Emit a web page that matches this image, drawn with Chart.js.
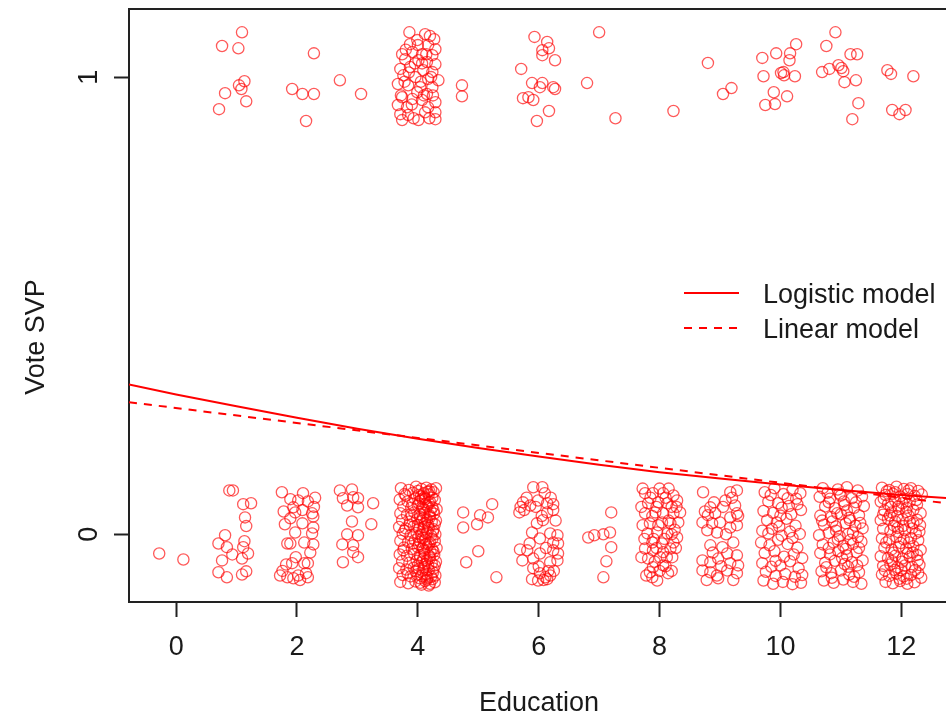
<!DOCTYPE html>
<html>
<head>
<meta charset="utf-8">
<script src="https://cdn.jsdelivr.net/npm/chart.js@4/dist/chart.umd.min.js"></script>
<style>
  html, body { margin: 0; padding: 0; background: #fff; }
  #wrap { width: 946px; height: 714px; }
</style>
</head>
<body>
<div id="wrap"><canvas id="plot" width="946" height="714"></canvas></div>
<script>
const edu0 = [[-0.28,-0.042],[0.12,-0.055]];

const edu1 = [
  [1.09,1.098],[0.76,1.068],[1.03,1.063],[1.13,0.991],[1.04,0.982],[1.08,0.974],[0.81,0.965],[1.16,0.947],[0.71,0.930],
  [0.88,0.096],[0.94,0.096],[1.11,0.066],[1.24,0.068],[1.14,0.037],[1.16,0.018],[0.81,-0.002],[0.70,-0.020],[0.84,-0.028],
  [1.13,-0.015],[1.11,-0.028],[0.93,-0.044],[1.19,-0.042],[0.76,-0.057],[1.09,-0.053],[0.70,-0.083],[0.84,-0.094],
  [1.09,-0.088],[1.16,-0.081]
];

const edu2 = [
  [2.28,1.052],[1.92,0.974],[2.09,0.963],[2.28,0.963],[2.15,0.904],
  [1.75,0.092],[1.89,0.077],[2.02,0.074],[2.18,0.072],[1.94,0.059],[1.97,0.048],[2.09,0.053],[2.25,0.046],[2.27,0.039],
  [1.89,0.035],[1.80,0.022],[2.09,0.024],[2.27,0.015],[2.25,0.002],[1.97,0.004],[1.89,-0.020],[1.84,-0.020],[2.12,-0.018],
  [2.27,-0.022],[1.82,-0.066],[1.92,-0.063],[2.12,-0.063],[2.18,-0.063],[1.72,-0.090],[1.84,-0.094],[1.94,-0.096],
  [2.02,-0.090],[2.15,-0.085],[2.18,-0.094],[2.10,0.090],[2.30,0.080],[1.78,0.050],[2.22,-0.040],[1.76,-0.080],
  [2.05,-0.100],[1.98,-0.050],[2.28,0.060]
];

const edu3 = [
  [2.71,0.993],[3.06,0.963],
  [2.71,0.096],[2.91,0.098],[2.76,0.079],[2.93,0.081],[3.01,0.079],[2.83,0.063],[3.01,0.059],[3.26,0.068],[2.91,0.028],
  [3.23,0.022],[2.83,0.000],[3.01,-0.002],[2.75,-0.022],[2.93,-0.024],[2.93,-0.039],[3.01,-0.050],[2.76,-0.061]
];

const edu4 = [
  [3.86,1.098],[4.12,1.094],[4.27,1.083],[3.99,1.081],[3.87,1.072],[4.17,1.070],[4.29,1.061],[3.74,1.050],[3.91,1.055],
  [4.07,1.050],[4.24,1.048],[3.79,1.039],[4.01,1.037],[4.15,1.033],[4.29,1.028],[3.71,1.018],[3.87,1.022],[4.09,1.015],
  [4.24,1.011],[3.76,1.004],[3.96,1.000],[4.17,0.996],[4.34,0.993],[3.67,0.985],[3.84,0.982],[4.04,0.978],[4.24,0.978],
  [3.99,0.967],[4.15,0.963],[3.74,0.956],[3.91,0.952],[4.07,0.950],[4.29,0.945],[3.67,0.939],[3.82,0.934],[4.17,0.934],
  [3.71,0.919],[3.84,0.917],[4.12,0.923],[4.29,0.923],[3.74,0.906],[4.01,0.906],[4.29,0.908],[3.80,1.060],[4.20,1.090],
  [3.95,1.030],[4.05,0.990],[3.90,0.940],[4.10,0.960],[4.22,1.000],[3.78,0.990],[4.00,1.070],[4.25,0.960],[3.85,1.010],
  [4.14,1.050],[3.72,0.960],[4.19,0.910],[3.93,0.910],[4.07,1.030],
  [3.72,0.101],[3.85,0.097],[3.97,0.104],[4.06,0.099],[4.14,0.102],[4.22,0.098],[4.30,0.101],
  [3.78,0.088],[3.92,0.091],[4.02,0.086],[4.10,0.090],[4.18,0.087],[4.26,0.092],
  [3.70,0.076],[3.83,0.072],[3.95,0.078],[4.04,0.073],[4.12,0.077],[4.20,0.071],[4.28,0.075],
  [3.76,0.061],[3.89,0.058],[4.00,0.063],[4.08,0.057],[4.16,0.062],[4.24,0.059],[4.31,0.055],
  [3.71,0.046],[3.82,0.043],[3.94,0.048],[4.03,0.044],[4.11,0.047],[4.19,0.042],[4.27,0.045],
  [3.74,0.031],[3.87,0.028],[3.99,0.033],[4.07,0.029],[4.15,0.032],[4.23,0.027],[4.30,0.030],
  [3.69,0.016],[3.80,0.013],[3.93,0.017],[4.02,0.012],[4.10,0.016],[4.18,0.014],[4.26,0.011],
  [3.75,0.001],[3.88,-0.002],[3.98,0.003],[4.06,-0.001],[4.14,0.002],[4.22,-0.003],[4.29,0.000],
  [3.71,-0.014],[3.84,-0.017],[3.95,-0.013],[4.04,-0.016],[4.12,-0.012],[4.20,-0.018],[4.28,-0.015],
  [3.77,-0.029],[3.90,-0.032],[4.00,-0.028],[4.08,-0.031],[4.16,-0.027],[4.24,-0.033],[4.31,-0.030],
  [3.70,-0.044],[3.82,-0.047],[3.94,-0.043],[4.03,-0.046],[4.11,-0.042],[4.19,-0.048],[4.27,-0.045],
  [3.74,-0.059],[3.86,-0.062],[3.98,-0.058],[4.07,-0.061],[4.15,-0.057],[4.23,-0.063],[4.30,-0.060],
  [3.69,-0.074],[3.81,-0.077],[3.93,-0.073],[4.02,-0.076],[4.10,-0.072],[4.18,-0.078],[4.26,-0.075],
  [3.75,-0.089],[3.88,-0.092],[3.99,-0.088],[4.06,-0.091],[4.14,-0.087],[4.22,-0.093],[4.29,-0.090],
  [3.71,-0.104],[3.84,-0.107],[3.96,-0.103],[4.04,-0.106],[4.12,-0.102],[4.20,-0.108],[4.28,-0.105],
  [4.05,0.083],[4.13,0.066],[4.21,0.051],[4.09,0.036],[4.17,0.021],[4.25,0.006],[4.01,-0.006],[4.13,-0.021],
  [4.21,-0.038],[4.09,-0.053],[4.17,-0.068],[4.25,-0.083],[4.03,-0.096],[4.15,-0.099],[4.19,0.094],[4.11,0.081],
  [3.91,0.066],[3.96,-0.081],[3.86,0.021],[4.08,0.009],
  [4.00,0.095],[4.08,0.078],[4.16,0.093],[4.24,0.080],[4.02,0.067],[4.10,0.055],[4.18,0.068],[4.26,0.052],
  [4.04,0.038],[4.12,0.025],[4.20,0.038],[4.28,0.022],[4.00,0.020],[4.08,-0.008],[4.16,0.005],[4.24,-0.010],
  [4.02,-0.022],[4.10,-0.035],[4.18,-0.022],[4.26,-0.038],[4.04,-0.050],[4.12,-0.065],[4.20,-0.052],[4.28,-0.068],
  [4.00,-0.068],[4.08,-0.080],[4.16,-0.095],[4.24,-0.098],[4.06,-0.110],[4.18,-0.112],[3.80,0.085],[3.76,-0.035],
  [3.90,0.040],[3.83,-0.085],[3.92,-0.020],[3.78,0.008]
];

const edu5 = [
  [4.73,0.982],[4.73,0.958],
  [4.75,0.048],[4.75,0.015],[5.03,0.042],[5.16,0.037],[5.23,0.066],[4.98,0.022],[5.00,-0.037],[4.80,-0.061],[5.30,-0.094]
];

const edu6 = [
  [5.93,1.088],[6.14,1.077],[6.17,1.063],[6.06,1.059],[6.06,1.048],[6.27,1.037],[5.71,1.018],[5.89,0.987],[6.06,0.987],
  [6.02,0.978],[6.24,0.978],[6.27,0.974],[5.74,0.954],[5.83,0.956],[5.91,0.950],[6.17,0.926],[5.97,0.904],
  [5.91,0.103],[6.06,0.103],[5.74,0.070],[5.86,0.063],[5.99,0.074],[6.14,0.068],[6.24,0.066],[5.68,0.048],[5.76,0.053],
  [6.14,0.048],[6.24,0.053],[5.97,0.024],[6.07,0.031],[5.89,0.004],[6.19,0.002],[6.31,-0.002],[6.02,-0.009],[6.24,-0.018],
  [6.32,-0.020],[5.69,-0.033],[5.81,-0.035],[6.02,-0.042],[6.24,-0.035],[6.32,-0.042],[5.73,-0.057],[5.91,-0.053],
  [6.19,-0.061],[6.31,-0.057],[5.91,-0.074],[6.02,-0.085],[6.11,-0.094],[6.19,-0.090],[5.89,-0.098],[5.99,-0.101],
  [6.14,-0.098],[5.80,0.080],[6.10,0.090],[5.95,0.060],[6.20,0.080],[5.70,0.060],[6.05,0.040],[6.28,0.030],[5.85,-0.020],
  [6.00,-0.070],[6.12,-0.030],[6.25,-0.080],[6.08,-0.100],[6.16,-0.080]
];

const edu7 = [
  [7.00,1.098],[6.80,0.987],[7.27,0.910],
  [7.20,0.048],[6.82,-0.007],[6.92,-0.002],[7.07,0.000],[7.18,0.004],[7.20,-0.028],[7.12,-0.059],[7.07,-0.094]
];

const edu8 = [
  [8.23,0.926],
  [7.76,0.090],[7.89,0.090],[8.06,0.090],[8.23,0.085],[7.81,0.068],[7.98,0.070],[8.13,0.068],[8.29,0.074],[7.76,0.046],
  [7.93,0.048],[8.06,0.046],[8.23,0.046],[8.34,0.048],[7.84,0.024],[8.04,0.026],[8.18,0.024],[8.31,0.026],[7.80,0.002],
  [7.96,0.004],[8.13,0.002],[8.29,-0.007],[7.88,-0.018],[8.04,-0.020],[8.23,-0.018],[7.76,-0.031],[7.89,-0.035],
  [8.06,-0.039],[8.18,-0.031],[7.81,-0.053],[8.01,-0.050],[8.21,-0.050],[7.89,-0.072],[8.06,-0.068],[7.84,-0.083],
  [8.14,-0.085],[7.88,-0.094],[7.96,-0.101],[7.72,0.100],[8.00,0.100],[8.15,0.100],[7.85,0.080],[8.10,0.080],[8.28,0.060],
  [7.70,0.060],[7.95,0.060],[8.20,0.060],[7.88,0.040],[8.15,0.030],[7.72,0.020],[7.98,0.020],[8.25,0.010],[7.90,-0.010],
  [8.20,0.000],[7.75,-0.010],[8.08,-0.010],[7.95,-0.030],[8.27,-0.030],[7.70,-0.050],[8.12,-0.050],[7.92,-0.060],
  [8.00,-0.080],[7.78,-0.090],[8.10,-0.070],[8.20,-0.080]
];

const edu9 = [
  [8.80,1.031],[9.19,0.976],[9.05,0.963],
  [8.72,0.092],[9.17,0.092],[9.28,0.096],[9.09,0.074],[9.25,0.063],[8.84,0.059],[8.80,0.042],[8.92,0.046],[9.17,0.037],
  [9.28,0.046],[8.71,0.026],[8.87,0.024],[9.00,0.026],[8.79,0.009],[8.95,0.004],[9.17,0.015],[9.28,0.020],[9.22,-0.018],
  [8.84,-0.024],[9.04,-0.028],[9.12,-0.042],[9.28,-0.046],[8.71,-0.057],[8.84,-0.061],[8.97,-0.053],[9.17,-0.063],
  [9.30,-0.068],[8.71,-0.079],[8.84,-0.083],[8.95,-0.090],[9.12,-0.079],[9.28,-0.085],[8.97,-0.096],[9.05,0.060],
  [8.90,0.070],[9.20,0.080],[8.75,0.050],[9.10,0.000],[8.88,-0.040],[9.02,-0.070],[9.22,-0.100],[8.78,-0.100],[9.30,0.040]
];

const edu10 = [
  [9.70,1.042],[9.93,1.052],[10.16,1.052],[10.15,1.037],[10.26,1.072],[9.72,1.002],[10.01,1.009],[10.06,1.004],
  [10.05,1.011],[10.24,1.002],[9.89,0.967],[10.11,0.958],[9.75,0.939],[9.91,0.941],
  [9.74,0.092],[9.90,0.101],[10.05,0.088],[10.20,0.097],[10.33,0.090],[9.80,0.072],[9.96,0.068],[10.12,0.079],
  [10.28,0.066],[9.72,0.051],[9.88,0.047],[10.02,0.058],[10.18,0.044],[10.34,0.053],[9.78,0.031],[9.94,0.026],
  [10.10,0.034],[10.25,0.019],[9.70,0.008],[9.86,0.012],[10.02,-0.003],[10.16,0.006],[10.32,0.001],[9.68,-0.018],
  [9.82,-0.024],[9.96,-0.012],[10.12,-0.021],[10.28,-0.029],[9.74,-0.041],[9.90,-0.037],[10.06,-0.049],[10.22,-0.044],
  [10.36,-0.052],[9.70,-0.063],[9.85,-0.071],[10.00,-0.068],[10.16,-0.059],[10.30,-0.074],[9.76,-0.082],[9.92,-0.091],
  [10.08,-0.087],[10.24,-0.093],[10.36,-0.089],[9.72,-0.101],[9.88,-0.108],[10.04,-0.104],[10.20,-0.109],[10.34,-0.106],
  [9.84,0.086],[10.00,0.041],[10.14,0.062],[9.92,-0.058],[10.20,-0.008],[9.80,0.002],[10.26,0.078],[9.98,0.017]
];

const edu11 = [
  [10.91,1.098],[10.76,1.068],[11.16,1.050],[11.27,1.050],[10.69,1.011],[10.81,1.018],[10.96,1.026],[11.01,1.020],
  [11.04,1.013],[11.06,0.989],[11.25,0.993],[11.29,0.943],[11.19,0.908],
  [10.70,0.101],[10.95,0.098],[11.10,0.103],[11.28,0.096],[10.65,0.082],[10.82,0.078],[11.00,0.085],[11.18,0.079],
  [11.35,0.083],[10.74,0.061],[10.90,0.057],[11.06,0.064],[11.22,0.058],[11.38,0.062],[10.66,0.041],[10.84,0.038],
  [11.00,0.044],[11.14,0.036],[11.30,0.042],[10.72,0.021],[10.92,0.017],[11.08,0.024],[11.24,0.019],[11.36,0.013],
  [10.64,-0.002],[10.80,0.003],[10.98,-0.004],[11.12,0.001],[11.28,-0.006],[10.70,-0.022],[10.88,-0.018],[11.04,-0.025],
  [11.20,-0.021],[11.34,-0.016],[10.66,-0.041],[10.82,-0.044],[10.96,-0.037],[11.10,-0.046],[11.26,-0.039],[10.74,-0.062],
  [10.90,-0.058],[11.06,-0.065],[11.18,-0.061],[11.36,-0.057],[10.68,-0.081],[10.84,-0.085],[11.00,-0.079],[11.14,-0.088],
  [11.30,-0.083],[10.72,-0.101],[10.88,-0.106],[11.04,-0.099],[11.20,-0.104],[11.34,-0.108],[10.78,0.091],[11.05,0.072],
  [11.15,0.031],[10.95,-0.011],[11.02,-0.052],[10.76,-0.072],[11.22,-0.093],[11.10,0.052],[10.86,0.028],[11.08,-0.032],
  [11.12,-0.071],[10.98,0.089],[11.16,-0.012],[10.94,0.046],
  [10.80,0.070],[11.25,0.070],[10.69,0.030],[11.32,0.025],[10.80,-0.030],[11.30,-0.030],[10.85,-0.095],[11.27,-0.068],
  [10.92,0.008],[11.20,0.004]
];

const edu12 = [
  [11.77,1.015],[11.83,1.007],[12.20,1.002],[11.85,0.928],[11.97,0.919],[12.07,0.928],
  [11.68,0.102],[11.80,0.097],[11.92,0.104],[12.04,0.099],[12.16,0.101],[12.28,0.095],[11.74,0.086],[11.86,0.089],
  [11.98,0.083],[12.10,0.088],[12.22,0.084],[12.34,0.087],[11.66,0.071],[11.78,0.066],[11.90,0.073],[12.02,0.068],
  [12.14,0.072],[12.26,0.065],[11.72,0.052],[11.84,0.048],[11.96,0.055],[12.08,0.049],[12.20,0.053],[12.32,0.046],
  [11.66,0.031],[11.78,0.034],[11.90,0.028],[12.02,0.033],[12.14,0.027],[12.26,0.032],[11.70,0.012],[11.82,0.008],
  [11.94,0.014],[12.06,0.009],[12.18,0.013],[12.30,0.006],[11.68,-0.009],[11.80,-0.012],[11.92,-0.006],[12.04,-0.011],
  [12.16,-0.008],[12.28,-0.013],[11.72,-0.029],[11.84,-0.033],[11.96,-0.027],[12.08,-0.031],[12.20,-0.026],[12.32,-0.034],
  [11.66,-0.048],[11.78,-0.052],[11.90,-0.047],[12.02,-0.053],[12.14,-0.049],[12.26,-0.045],[11.70,-0.069],[11.82,-0.066],
  [11.94,-0.072],[12.06,-0.068],[12.18,-0.071],[12.30,-0.067],[11.68,-0.088],[11.80,-0.091],[11.92,-0.086],[12.04,-0.092],
  [12.16,-0.089],[12.28,-0.085],[11.74,-0.104],[11.86,-0.107],[11.98,-0.102],[12.10,-0.108],[12.22,-0.105],[11.76,0.094],
  [11.95,0.061],[12.12,0.041],[11.88,0.019],[12.24,0.002],[11.99,-0.019],[12.11,-0.041],[11.85,-0.059],[12.23,-0.078],
  [11.97,-0.097],[12.05,0.078],[11.81,0.041],[12.20,0.024],[12.00,-0.079],[11.90,0.092],
  [11.71,0.078],[11.83,0.060],[11.93,0.040],[12.09,0.058],[12.25,0.075],[12.31,0.020],[11.75,-0.018],[11.87,-0.040],
  [12.01,-0.060],[12.13,-0.018],[12.27,-0.058],[11.73,-0.079],[11.89,-0.078],[12.09,-0.097],[12.19,-0.040],[11.95,0.005],
  [12.12,0.096],[11.70,0.043],[12.33,-0.095],[12.03,0.018]
];

// fitted curves, values
const curveX = [-0.78, 0, 1, 2, 3, 4, 5, 6, 7, 8, 9, 10, 11, 12, 12.8];
const logisticY = [0.328, 0.306, 0.280, 0.255, 0.231, 0.209, 0.189, 0.170, 0.152, 0.136, 0.122, 0.109, 0.097, 0.086, 0.079];
const linearX = [-0.78, 12.8];
const linearY = [0.289, 0.067];

const xTicks = [0, 2, 4, 6, 8, 10, 12];
const yTicks = [0, 1];
const legendLabels = ['Logistic model', 'Linear model'];

const FONT = '27px "Liberation Sans", Arial, sans-serif';
const INK = '#1a1a1a';

const points = [edu0, edu1, edu2, edu3, edu4, edu5, edu6, edu7, edu8, edu9, edu10, edu11, edu12]
  .flat().map(([x, y]) => ({x, y}));

const rFrame = {
  id: 'rFrame',
  afterDraw(chart) {
    const {ctx, chartArea: a, scales: {x, y}} = chart;
    ctx.save();
    // top edge of the box
    ctx.strokeStyle = '#222';
    ctx.lineWidth = 2;
    ctx.beginPath();
    ctx.moveTo(a.left, a.top);
    ctx.lineTo(a.right, a.top);
    ctx.stroke();

    ctx.font = FONT;
    ctx.fillStyle = INK;
    ctx.textAlign = 'center';
    ctx.textBaseline = 'alphabetic';
    xTicks.forEach(v => ctx.fillText(String(v), x.getPixelForValue(v), 655));
    yTicks.forEach(v => {
      ctx.save();
      ctx.translate(97, y.getPixelForValue(v));
      ctx.rotate(-Math.PI / 2);
      ctx.fillText(String(v), 0, 0);
      ctx.restore();
    });

    ctx.fillText('Education', 539, 711);
    ctx.save();
    ctx.translate(44, 337);
    ctx.rotate(-Math.PI / 2);
    ctx.fillText('Vote SVP', 0, 0);
    ctx.restore();

    // legend
    ctx.textAlign = 'left';
    const sets = [chart.data.datasets[0], chart.data.datasets[1]];
    sets.forEach((ds, i) => {
      const ly = 293 + i * 35;
      ctx.strokeStyle = ds.borderColor;
      ctx.lineWidth = ds.borderWidth;
      ctx.setLineDash(ds.borderDash || []);
      ctx.beginPath();
      ctx.moveTo(684, ly);
      ctx.lineTo(739, ly);
      ctx.stroke();
      ctx.setLineDash([]);
      ctx.fillStyle = INK;
      ctx.fillText(legendLabels[i], 763, ly + 10);
    });
    ctx.restore();
  }
};

const noPad = s => { s.paddingLeft = 0; s.paddingRight = 0; s.paddingTop = 0; s.paddingBottom = 0; };

new Chart(document.getElementById('plot'), {
  type: 'scatter',
  data: {
    datasets: [
      {
        type: 'line',
        label: legendLabels[0],
        data: curveX.map((x, i) => ({x, y: logisticY[i]})),
        borderColor: '#ff0000',
        borderWidth: 2,
        pointRadius: 0,
        fill: false,
        order: 1
      },
      {
        type: 'line',
        label: legendLabels[1],
        data: linearX.map((x, i) => ({x, y: linearY[i]})),
        borderColor: '#ff0000',
        borderWidth: 2,
        borderDash: [8, 7],
        pointRadius: 0,
        fill: false,
        order: 1
      },
      {
        label: 'obs',
        data: points,
        pointRadius: 5.6,
        pointBorderWidth: 1.3,
        borderColor: 'rgba(255,0,0,0.65)',
        backgroundColor: 'rgba(0,0,0,0)',
        order: 2
      }
    ]
  },
  options: {
    responsive: false,
    animation: false,
    layout: { autoPadding: false, padding: { top: 9, right: 0, bottom: 0, left: 0 } },
    plugins: { legend: { display: false }, tooltip: { enabled: false } },
    scales: {
      x: {
        type: 'linear',
        min: -0.78,
        max: 12.74,
        afterBuildTicks: s => { s.ticks = xTicks.map(v => ({value: v})); },
        afterFit: s => { s.height = 112; noPad(s); },
        ticks: { display: false },
        grid: { drawOnChartArea: false, drawTicks: true, tickLength: 15, tickColor: '#222', tickWidth: 2 },
        border: { display: true, color: '#222', width: 2 }
      },
      y: {
        type: 'linear',
        min: -0.148,
        max: 1.149,
        afterBuildTicks: s => { s.ticks = yTicks.map(v => ({value: v})); },
        afterFit: s => { s.width = 129; noPad(s); },
        ticks: { display: false },
        grid: { drawOnChartArea: false, drawTicks: true, tickLength: 15, tickColor: '#222', tickWidth: 2 },
        border: { display: true, color: '#222', width: 2 }
      }
    }
  },
  plugins: [rFrame]
});
</script>
</body>
</html>
